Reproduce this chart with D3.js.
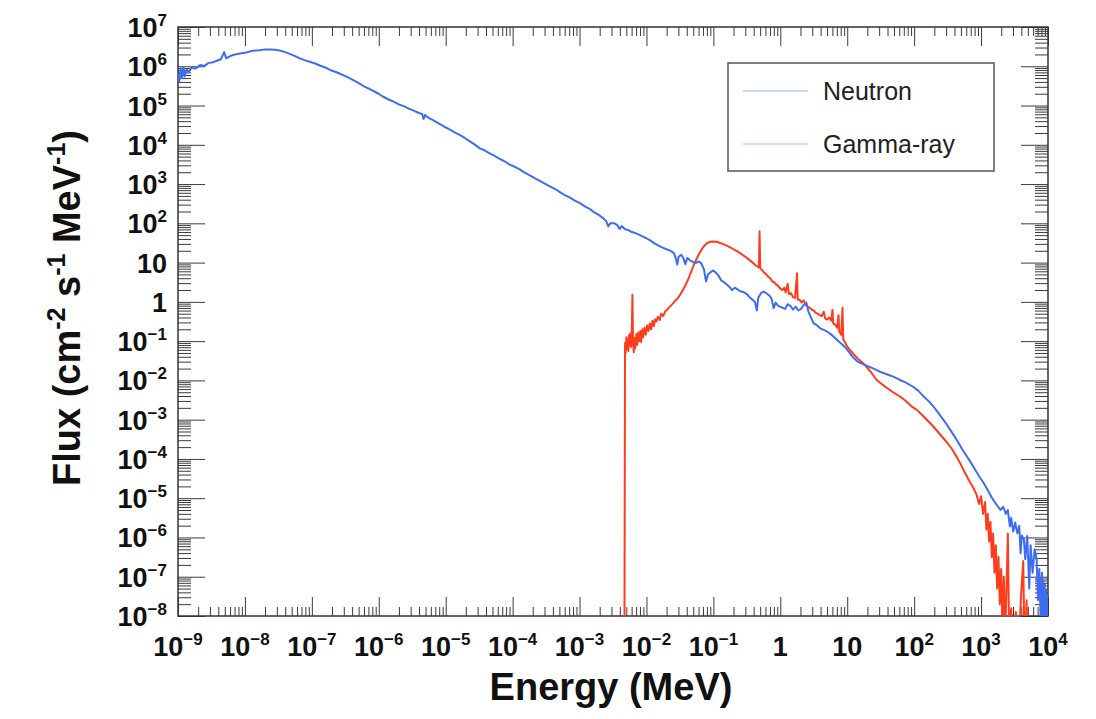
<!DOCTYPE html>
<html>
<head>
<meta charset="utf-8">
<script src="https://cdn.jsdelivr.net/npm/d3@7"></script>
<style>
  body { margin: 0; background: #fff; }
  text { font-family: "Liberation Sans", Arial, Helvetica, sans-serif; }
</style>
</head>
<body>
<svg id="chart" width="1096" height="719"></svg>
<script>
// values, stored as [log10(E / MeV), log10(flux)]
var neutronLog = [
  [-9.00, 5.78], [-8.98, 5.62], [-8.96, 5.95], [-8.94, 5.70], [-8.92, 5.98], [-8.90, 5.74], [-8.87, 5.92],
  [-8.84, 5.85], [-8.80, 5.96], [-8.74, 5.94], [-8.67, 6.03], [-8.60, 6.01], [-8.55, 6.08], [-8.48, 6.10],
  [-8.42, 6.14], [-8.36, 6.18], [-8.31, 6.36], [-8.28, 6.20], [-8.22, 6.26], [-8.15, 6.30], [-8.05, 6.33],
  [-7.98, 6.35], [-7.92, 6.38], [-7.85, 6.40], [-7.78, 6.41], [-7.70, 6.43], [-7.62, 6.43], [-7.55, 6.42],
  [-7.48, 6.40], [-7.40, 6.36], [-7.32, 6.31], [-7.25, 6.26], [-7.18, 6.20], [-7.10, 6.15], [-7.02, 6.11],
  [-6.95, 6.07], [-6.88, 6.02], [-6.80, 5.97], [-6.72, 5.90], [-6.65, 5.86], [-6.58, 5.81], [-6.50, 5.75],
  [-6.43, 5.69], [-6.36, 5.63], [-6.30, 5.57], [-6.22, 5.49], [-6.15, 5.43], [-6.08, 5.37], [-6.00, 5.30],
  [-5.94, 5.23], [-5.86, 5.16], [-5.78, 5.10], [-5.70, 5.03], [-5.62, 4.98], [-5.55, 4.92], [-5.48, 4.87],
  [-5.40, 4.81], [-5.35, 4.78], [-5.33, 4.66], [-5.31, 4.76], [-5.25, 4.68], [-5.18, 4.62], [-5.10, 4.54],
  [-5.02, 4.46], [-4.95, 4.40], [-4.88, 4.33], [-4.80, 4.26], [-4.72, 4.18], [-4.65, 4.10], [-4.57, 4.01],
  [-4.49, 3.91], [-4.42, 3.86], [-4.35, 3.79], [-4.27, 3.72], [-4.20, 3.65], [-4.12, 3.58], [-4.05, 3.50],
  [-3.97, 3.44], [-3.90, 3.38], [-3.82, 3.29], [-3.75, 3.23], [-3.67, 3.15], [-3.60, 3.09], [-3.52, 3.01],
  [-3.45, 2.95], [-3.37, 2.88], [-3.30, 2.80], [-3.22, 2.72], [-3.15, 2.66], [-3.07, 2.58], [-3.00, 2.52],
  [-2.92, 2.43], [-2.85, 2.37], [-2.78, 2.28], [-2.70, 2.20], [-2.64, 2.12], [-2.60, 2.05], [-2.57, 1.92],
  [-2.54, 2.00], [-2.48, 2.00], [-2.44, 1.96], [-2.40, 1.86], [-2.37, 1.93], [-2.32, 1.85], [-2.27, 1.83],
  [-2.24, 1.79], [-2.18, 1.76], [-2.12, 1.72], [-2.06, 1.67], [-2.00, 1.62], [-1.94, 1.56], [-1.88, 1.49],
  [-1.82, 1.43], [-1.76, 1.38], [-1.70, 1.34], [-1.64, 1.30], [-1.59, 1.24], [-1.56, 1.10], [-1.54, 0.95],
  [-1.52, 1.15], [-1.48, 1.20], [-1.45, 1.12], [-1.42, 0.96], [-1.39, 1.12], [-1.35, 1.06], [-1.31, 1.02],
  [-1.26, 0.99], [-1.22, 1.03], [-1.18, 0.98], [-1.14, 0.82], [-1.11, 0.52], [-1.08, 0.70], [-1.04, 0.76],
  [-1.00, 0.80], [-0.96, 0.74], [-0.92, 0.66], [-0.88, 0.54], [-0.84, 0.50], [-0.80, 0.44], [-0.76, 0.38],
  [-0.72, 0.30], [-0.68, 0.36], [-0.64, 0.32], [-0.60, 0.27], [-0.55, 0.25], [-0.50, 0.20], [-0.46, 0.12],
  [-0.42, 0.06], [-0.38, 0.00], [-0.35, -0.22], [-0.33, 0.10], [-0.29, 0.22], [-0.25, 0.26], [-0.21, 0.22],
  [-0.17, 0.17], [-0.13, 0.08], [-0.10, -0.16], [-0.07, -0.02], [-0.03, -0.10], [0.02, -0.14], [0.07, -0.18],
  [0.11, -0.06], [0.15, -0.10], [0.19, -0.20], [0.23, -0.12], [0.27, -0.22], [0.31, -0.18], [0.35, -0.08],
  [0.39, -0.02], [0.42, -0.25], [0.46, -0.40], [0.50, -0.55], [0.55, -0.60], [0.60, -0.68], [0.66, -0.72],
  [0.72, -0.78], [0.78, -0.86], [0.84, -0.95], [0.90, -1.05], [0.96, -1.14], [1.02, -1.26], [1.08, -1.40],
  [1.14, -1.50], [1.20, -1.56], [1.27, -1.61], [1.35, -1.67], [1.42, -1.72], [1.49, -1.78], [1.57, -1.83],
  [1.65, -1.88], [1.72, -1.93], [1.79, -1.99], [1.87, -2.05], [1.95, -2.13], [2.00, -2.18], [2.06, -2.26],
  [2.12, -2.37], [2.18, -2.47], [2.24, -2.57], [2.29, -2.67], [2.35, -2.80], [2.41, -2.94], [2.47, -3.08],
  [2.54, -3.26], [2.60, -3.42], [2.66, -3.58], [2.72, -3.76], [2.79, -3.94], [2.85, -4.10], [2.91, -4.27],
  [2.97, -4.44], [3.04, -4.62], [3.10, -4.80], [3.16, -4.98], [3.22, -5.14], [3.29, -5.30], [3.33, -5.22],
  [3.37, -5.40], [3.40, -5.30], [3.43, -5.72], [3.45, -5.50], [3.48, -5.85], [3.51, -5.62], [3.54, -5.89],
  [3.57, -5.70], [3.59, -6.40], [3.61, -5.95], [3.64, -6.05], [3.66, -6.55], [3.69, -5.96], [3.72, -7.30],
  [3.74, -6.20], [3.77, -6.90], [3.80, -6.30], [3.83, -6.55], [3.85, -7.60], [3.87, -6.80], [3.89, -8.10],
  [3.91, -6.90], [3.92, -8.40], [3.93, -7.10], [3.94, -8.60], [3.95, -7.20], [3.96, -8.50], [3.97, -7.35],
  [3.98, -8.70], [3.99, -7.50], [4.00, -8.00]
];

var gammaLog = [
  [-2.33, -9.50], [-2.32, -1.05], [-2.31, -1.30], [-2.30, -0.90], [-2.29, -1.20], [-2.28, -0.95], [-2.27, -1.25],
  [-2.26, -0.85], [-2.25, -1.10], [-2.24, -0.80], [-2.23, -1.15], [-2.22, -0.90], [-2.21, 0.18], [-2.20, -1.00],
  [-2.19, -1.28], [-2.18, -0.92], [-2.17, -1.18], [-2.15, -0.82], [-2.14, -1.10], [-2.12, -0.78], [-2.11, -1.00],
  [-2.09, -0.74], [-2.08, -1.02], [-2.06, -0.70], [-2.05, -0.90], [-2.03, -0.66], [-2.01, -0.84], [-1.99, -0.60],
  [-1.97, -0.74], [-1.95, -0.55], [-1.93, -0.70], [-1.91, -0.48], [-1.89, -0.62], [-1.87, -0.44], [-1.85, -0.50],
  [-1.83, -0.38], [-1.80, -0.46], [-1.78, -0.30], [-1.75, -0.36], [-1.72, -0.24], [-1.69, -0.20], [-1.65, -0.12],
  [-1.61, -0.05], [-1.57, 0.03], [-1.53, 0.10], [-1.49, 0.20], [-1.45, 0.32], [-1.41, 0.45], [-1.37, 0.60],
  [-1.33, 0.78], [-1.29, 0.95], [-1.25, 1.10], [-1.21, 1.23], [-1.17, 1.35], [-1.13, 1.44], [-1.09, 1.50],
  [-1.05, 1.53], [-1.00, 1.54], [-0.95, 1.53], [-0.90, 1.50], [-0.85, 1.47], [-0.80, 1.43], [-0.75, 1.39],
  [-0.70, 1.34], [-0.65, 1.29], [-0.60, 1.24], [-0.55, 1.18], [-0.50, 1.12], [-0.45, 1.05], [-0.40, 0.98],
  [-0.36, 0.92], [-0.32, 0.88], [-0.31, 1.80], [-0.30, 0.86], [-0.27, 0.80], [-0.24, 0.74], [-0.21, 0.70],
  [-0.18, 0.64], [-0.15, 0.60], [-0.12, 0.52], [-0.09, 0.50], [-0.06, 0.44], [-0.03, 0.40], [0.00, 0.34],
  [0.03, 0.30], [0.06, 0.36], [0.08, 0.24], [0.11, 0.46], [0.13, 0.20], [0.16, 0.22], [0.19, 0.12],
  [0.22, 0.10], [0.25, 0.73], [0.26, 0.06], [0.29, 0.05], [0.32, -0.02], [0.35, 0.04], [0.38, -0.08],
  [0.41, -0.12], [0.44, -0.15], [0.47, -0.20], [0.50, -0.22], [0.53, -0.28], [0.56, -0.30], [0.59, -0.34],
  [0.62, -0.36], [0.65, -0.25], [0.67, -0.42], [0.70, -0.45], [0.73, -0.40], [0.76, -0.48], [0.78, -0.20],
  [0.79, -0.55], [0.82, -0.58], [0.85, -0.66], [0.87, -0.34], [0.88, -0.75], [0.91, -0.84], [0.93, -0.15],
  [0.94, -0.95], [0.97, -1.04], [1.00, -1.14], [1.05, -1.24], [1.10, -1.34], [1.16, -1.45], [1.22, -1.54],
  [1.28, -1.64], [1.35, -1.78], [1.44, -1.99], [1.52, -2.10], [1.60, -2.20], [1.70, -2.32], [1.79, -2.41],
  [1.88, -2.53], [1.96, -2.66], [2.04, -2.75], [2.12, -2.88], [2.20, -3.02], [2.29, -3.18], [2.36, -3.32],
  [2.43, -3.46], [2.50, -3.60], [2.57, -3.76], [2.64, -3.96], [2.70, -4.15], [2.76, -4.36], [2.82, -4.55],
  [2.88, -4.72], [2.93, -4.90], [2.97, -5.15], [3.00, -4.95], [3.03, -5.40], [3.06, -5.10], [3.08, -5.80],
  [3.10, -5.40], [3.12, -6.10], [3.14, -5.60], [3.16, -6.50], [3.18, -5.90], [3.20, -6.90], [3.22, -6.20],
  [3.24, -7.30], [3.26, -6.50], [3.28, -7.70], [3.30, -6.80], [3.32, -8.20], [3.34, -7.00], [3.36, -8.50],
  [3.38, -7.30], [3.40, -5.90], [3.42, -8.60], [3.45, -7.80], [3.48, -8.70], [3.52, -7.90], [3.56, -8.80],
  [3.60, -7.40], [3.63, -6.60], [3.65, -8.90], [3.68, -7.60], [3.70, -9.00], [3.75, -9.50]
];

var seriesNames = ["Neutron", "Gamma-ray"];
var seriesColors = ["#3f6df2", "#ff3d1c"];

// decade exponents for the major ticks, mantissas for the minor ticks
var xExponents = [-9, -8, -7, -6, -5, -4, -3, -2, -1, 0, 1, 2, 3, 4];
var yExponents = [-8, -7, -6, -5, -4, -3, -2, -1, 0, 1, 2, 3, 4, 5, 6, 7];
var minorSteps = [2, 3, 4, 5, 6, 7, 8, 9];

var xTitle = "Energy (MeV)";

var width = 870, height = 589;
var svg = d3.select("#chart");
var g = svg.append("g").attr("transform", "translate(178,27)");

var x = d3.scaleLog().domain([1e-9, 1e4]).range([0, width]);
var y = d3.scaleLog().domain([1e-8, 1e7]).range([height, 0]);

function pow10(e) { return Math.pow(10, e); }

var xMajor = xExponents.map(pow10);
var yMajor = yExponents.map(pow10);
var xMinor = [], yMinor = [];
xExponents.slice(0, -1).forEach(function(e) {
    minorSteps.forEach(function(k) { xMinor.push(k * pow10(e)); });
});
yExponents.slice(0, -1).forEach(function(e) {
    minorSteps.forEach(function(k) { yMinor.push(k * pow10(e)); });
});

// ticks drawn inward on all four sides
function tickLayer(axis, values, size, transform) {
    g.append("g")
        .attr("transform", transform)
        .attr("color", "#3a3a3a")
        .call(axis.tickValues(values).tickSize(-size).tickSizeOuter(0).tickFormat(""))
        .call(function(s) { s.select(".domain").remove(); });
}
tickLayer(d3.axisBottom(x), xMinor, 9, "translate(0," + height + ")");
tickLayer(d3.axisBottom(x), xMajor, 19, "translate(0," + height + ")");
tickLayer(d3.axisTop(x), xMinor, 9, "translate(0,0)");
tickLayer(d3.axisTop(x), xMajor, 19, "translate(0,0)");
tickLayer(d3.axisLeft(y), yMinor, 13, "translate(0,0)");
tickLayer(d3.axisLeft(y), yMajor, 27, "translate(0,0)");
tickLayer(d3.axisRight(y), yMinor, 13, "translate(" + width + ",0)");
tickLayer(d3.axisRight(y), yMajor, 27, "translate(" + width + ",0)");

// frame
g.append("rect")
    .attr("width", width).attr("height", height)
    .attr("fill", "none").attr("stroke", "#333").attr("stroke-width", 1.5);

// "10^n" labels
function powerLabel(sel, e) {
    if (e === 0) { sel.text("1"); return; }
    if (e === 1) { sel.text("10"); return; }
    sel.append("tspan").text("10");
    sel.append("tspan").attr("dy", -11).attr("font-size", 17)
        .text((e < 0 ? "\u2212" : "") + Math.abs(e));
}

g.append("g").selectAll("text").data(xExponents).join("text")
    .attr("x", function(e) { return x(pow10(e)); })
    .attr("y", height + 40)
    .attr("text-anchor", "middle")
    .attr("font-size", 27).attr("font-weight", "bold").attr("fill", "#111")
    .each(function(e) { powerLabel(d3.select(this), e); });

g.append("g").selectAll("text").data(yExponents).join("text")
    .attr("x", -11)
    .attr("y", function(e) { return y(pow10(e)) + 10; })
    .attr("text-anchor", "end")
    .attr("font-size", 27).attr("font-weight", "bold").attr("fill", "#111")
    .each(function(e) { powerLabel(d3.select(this), e); });

// axis titles
svg.append("text")
    .attr("x", 611).attr("y", 700)
    .attr("text-anchor", "middle")
    .attr("font-size", 38).attr("font-weight", "bold").attr("fill", "#111")
    .text(xTitle);

var yTitle = svg.append("text")
    .attr("transform", "translate(80,308) rotate(-90)")
    .attr("text-anchor", "middle")
    .attr("font-size", 38).attr("font-weight", "bold").attr("fill", "#111");
[["Flux (cm", 0], ["-2", 1], [" s", 0], ["-1", 1], [" MeV", 0], ["-1", 1], [")", 0]].forEach(function(p, i, arr) {
    var t = yTitle.append("tspan").text(p[0]);
    if (p[1]) t.attr("dy", -15).attr("font-size", 25);
    else if (i > 0 && arr[i - 1][1]) t.attr("dy", 15);
});

// spectra
g.append("clipPath").attr("id", "plot-clip")
    .append("rect").attr("width", width).attr("height", height);

var line = d3.line()
    .x(function(d) { return x(pow10(d[0])); })
    .y(function(d) { return y(pow10(d[1])); });

var plot = g.append("g").attr("clip-path", "url(#plot-clip)");
plot.append("path").datum(gammaLog)
    .attr("fill", "none").attr("stroke", seriesColors[1]).attr("stroke-width", 2)
    .attr("stroke-linejoin", "round")
    .attr("d", line);
plot.append("path").datum(neutronLog)
    .attr("fill", "none").attr("stroke", seriesColors[0]).attr("stroke-width", 2)
    .attr("stroke-linejoin", "round")
    .attr("d", line);

// legend
var legend = svg.append("g").attr("transform", "translate(728,63)");
legend.append("rect")
    .attr("width", 266).attr("height", 108)
    .attr("fill", "#fff").attr("stroke", "#555").attr("stroke-width", 1.5);
seriesNames.forEach(function(name, i) {
    var row = legend.append("g").attr("transform", "translate(0," + (28 + i * 53) + ")");
    row.append("line")
        .attr("x1", 15).attr("x2", 80)
        .attr("stroke", seriesColors[i]).attr("stroke-opacity", 0.5).attr("stroke-width", 1);
    row.append("text")
        .attr("x", 95).attr("y", 9)
        .attr("font-size", 25).attr("fill", "#222")
        .text(name);
});
</script>
</body>
</html>
